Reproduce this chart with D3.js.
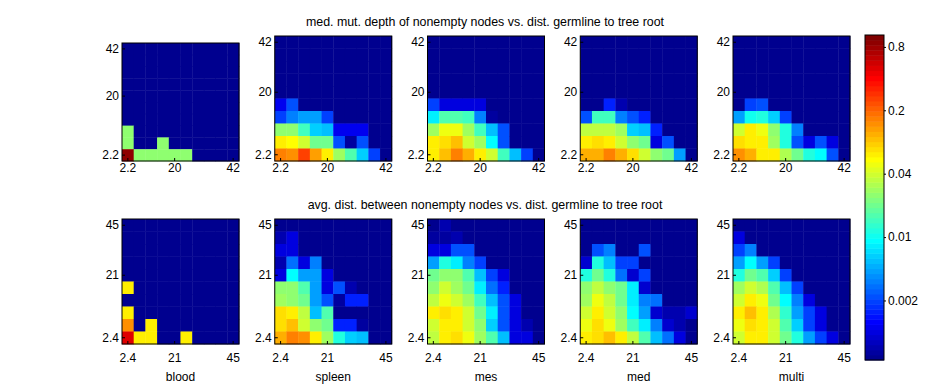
<!DOCTYPE html>
<meta charset="utf-8">
<script src="https://d3js.org/d3.v7.min.js"></script>
<style>
  body { margin: 0; background: #fff; }
  text { font-family: Arial, "Liberation Sans", sans-serif; }
</style>
<svg id="chart" width="938" height="387"></svg>

<script>

// sample names and row titles
var sources = ["blood", "spleen", "mes", "med", "multi"];
var rowTitles = [
  "med. mut. depth of nonempty nodes vs. dist. germline to tree root",
  "avg. dist. between nonempty nodes vs. dist. germline to tree root"
];
var rowTickLabels = [["2.2", "20", "42"], ["2.4", "21", "45"]];
var xTickBins = [0, 4, 9];
var yTickBins = [0, 5, 9];

// colour bar (log scale)
var colorDomain = [0.00049, 1.06];
var colorTicks = [0.8, 0.179, 0.04, 0.00894, 0.002];
var colorTickLabels = ["0.8", "0.2", "0.04", "0.01", "0.002"];

// 10x10 frequency grids, rows listed top -> bottom, 0 = empty
var depthBlood = [
  [0,0,0,0,0,0,0,0,0,0],
  [0,0,0,0,0,0,0,0,0,0],
  [0,0,0,0,0,0,0,0,0,0],
  [0,0,0,0,0,0,0,0,0,0],
  [0,0,0,0,0,0,0,0,0,0],
  [0,0,0,0,0,0,0,0,0,0],
  [0,0,0,0,0,0,0,0,0,0],
  [0.023,0,0,0,0,0,0,0,0,0],
  [0.023,0,0,0.023,0,0,0,0,0,0],
  [0.85,0.023,0.023,0.023,0.023,0.023,0,0,0,0]
];
var depthSpleen = [
  [0,0,0,0,0,0,0,0,0,0],
  [0,0,0,0,0,0,0,0,0,0],
  [0,0,0,0,0,0,0,0,0,0],
  [0,0,0,0,0,0,0,0,0,0],
  [0,0,0,0,0,0,0,0,0,0],
  [0.00105,0.0023,0,0,0,0,0,0,0,0],
  [0.0019,0.0033,0.004,0.004,0.0019,0,0,0,0,0],
  [0.023,0.023,0.0127,0.006,0.0049,0.00105,0.00105,0.00105,0,0],
  [0.06,0.055,0.04,0.02,0.0186,0.0023,0.0006,0.0023,0,0],
  [0.14,0.13,0.23,0.12,0.06,0.027,0.0155,0.006,0.0019,0]
];
var depthMes = [
  [0,0,0,0,0,0,0,0,0,0],
  [0,0,0,0,0,0,0,0,0,0],
  [0,0,0,0,0,0,0,0,0,0],
  [0,0,0,0,0,0,0,0,0,0],
  [0,0,0,0,0,0,0,0,0,0],
  [0.0019,0.001,0.001,0.001,0.001,0,0,0,0,0],
  [0.0072,0.0155,0.0155,0.0127,0.0033,0.0006,0,0,0,0],
  [0.027,0.049,0.049,0.027,0.0127,0.0049,0.0023,0,0,0],
  [0.06,0.07,0.09,0.04,0.027,0.008,0.0023,0,0,0],
  [0.065,0.09,0.155,0.106,0.065,0.04,0.0127,0.0049,0.0019,0]
];
var depthMed = [
  [0,0,0,0,0,0,0,0,0,0],
  [0,0,0,0,0,0,0,0,0,0],
  [0,0,0,0,0,0,0,0,0,0],
  [0,0,0,0,0,0,0,0,0,0],
  [0,0,0,0,0,0,0,0,0,0],
  [0,0,0.0015,0.0007,0,0,0,0,0,0],
  [0.0023,0.0127,0.0127,0.0033,0.0023,0.0015,0,0,0,0],
  [0.033,0.033,0.033,0.027,0.006,0.0049,0.0015,0,0,0],
  [0.06,0.075,0.06,0.04,0.023,0.018,0.001,0.0023,0,0],
  [0.106,0.106,0.155,0.106,0.07,0.04,0.023,0.0186,0.004,0]
];
var depthMulti = [
  [0,0,0,0,0,0,0,0,0,0],
  [0,0,0,0,0,0,0,0,0,0],
  [0,0,0,0,0,0,0,0,0,0],
  [0,0,0,0,0,0,0,0,0,0],
  [0,0,0,0,0,0,0,0,0,0],
  [0,0.002,0.0023,0,0,0,0,0,0,0],
  [0.004,0.009,0.01,0.006,0.002,0,0,0,0,0],
  [0.04,0.06,0.05,0.023,0.01,0.003,0,0,0,0],
  [0.07,0.065,0.06,0.027,0.01,0.0023,0.001,0.0023,0.001,0],
  [0.13,0.1,0.065,0.06,0.03,0.018,0.01,0.008,0.0023,0]
];

var distBlood = [
  [0,0,0,0,0,0,0,0,0,0],
  [0,0,0,0,0,0,0,0,0,0],
  [0,0,0,0,0,0,0,0,0,0],
  [0,0,0,0,0,0,0,0,0,0],
  [0,0,0,0,0,0,0,0,0,0],
  [0.06,0,0,0,0,0,0,0,0,0],
  [0,0,0,0,0,0,0,0,0,0],
  [0.06,0,0,0,0,0,0,0,0,0],
  [0.13,0,0.06,0,0,0,0,0,0,0],
  [0.5,0.06,0.06,0,0,0.06,0,0,0,0]
];
var distSpleen = [
  [0,0,0,0,0,0,0,0,0,0],
  [0.0007,0.001,0,0,0,0,0,0,0,0],
  [0.001,0.001,0,0,0,0,0,0,0,0],
  [0.0007,0.0027,0.0009,0.0033,0,0,0,0,0,0],
  [0.001,0.0087,0.004,0.004,0.001,0,0,0,0,0],
  [0.023,0.023,0.0155,0.004,0.001,0.0023,0.0007,0,0,0],
  [0.027,0.023,0.0186,0.004,0.0023,0.0006,0.0015,0.0015,0,0],
  [0.072,0.06,0.033,0.0049,0.0155,0,0,0,0,0],
  [0.072,0.087,0.04,0.023,0.0186,0.0015,0.0015,0.0006,0,0],
  [0.106,0.14,0.13,0.065,0.027,0.0105,0.006,0.0049,0,0]
];
var distMes = [
  [0,0.0007,0,0,0,0,0,0,0,0],
  [0.0006,0.0006,0.0007,0,0,0,0,0,0,0],
  [0.001,0.0009,0.0023,0.0023,0,0,0,0,0,0],
  [0.004,0.0105,0.0072,0.0033,0.0019,0,0,0,0,0],
  [0.0186,0.023,0.023,0.0155,0.0049,0.0019,0.001,0,0,0],
  [0.023,0.04,0.027,0.0186,0.0072,0.0027,0.0015,0,0,0],
  [0.033,0.049,0.04,0.027,0.0127,0.0049,0.0023,0.001,0,0],
  [0.06,0.072,0.065,0.04,0.0186,0.0072,0.0023,0.001,0,0],
  [0.04,0.06,0.06,0.04,0.023,0.006,0.0023,0.001,0.0007,0],
  [0.033,0.06,0.072,0.049,0.027,0.0155,0.0049,0.001,0.001,0]
];
var distMed = [
  [0,0,0,0,0,0,0,0,0,0],
  [0,0,0,0,0,0,0,0,0,0],
  [0,0.0023,0.0033,0,0,0.0023,0,0,0,0],
  [0.00087,0.0105,0.0049,0.0019,0.0019,0,0,0,0,0],
  [0.0105,0.0186,0.0105,0.0027,0.00087,0.0019,0,0,0,0],
  [0.023,0.033,0.023,0.0186,0.0072,0.00087,0,0,0,0],
  [0.027,0.049,0.033,0.0186,0.0072,0.0033,0.0027,0,0,0],
  [0.04,0.06,0.04,0.023,0.0087,0.004,0.00087,0.0007,0.0007,0.00087],
  [0.049,0.075,0.049,0.027,0.0127,0.0072,0.0033,0.00087,0.0007,0],
  [0.06,0.072,0.087,0.065,0.033,0.0155,0.0049,0.0027,0.001,0]
];
var distMulti = [
  [0,0,0,0,0,0,0,0,0,0],
  [0.001,0,0,0,0,0,0,0,0,0],
  [0.002,0.003,0,0,0,0,0,0,0,0],
  [0.004,0.008,0.004,0.002,0,0,0,0,0,0],
  [0.01,0.02,0.015,0.006,0.002,0,0,0,0,0],
  [0.027,0.04,0.03,0.015,0.005,0.002,0,0,0,0],
  [0.04,0.06,0.05,0.02,0.008,0.003,0.001,0,0,0],
  [0.06,0.09,0.06,0.03,0.012,0.004,0.002,0.001,0,0],
  [0.05,0.07,0.06,0.04,0.015,0.006,0.002,0.001,0,0],
  [0.04,0.06,0.06,0.04,0.02,0.01,0.004,0.002,0.001,0]
];

var grids = [
  [depthBlood, depthSpleen, depthMes, depthMed, depthMulti],
  [distBlood, distSpleen, distMes, distMed, distMulti]
];

// MATLAB jet(64)
function jetMap(n) {
  var m = Math.ceil(n / 4), u = [];
  for (var i = 1; i <= m; i++) u.push(i / m);
  for (var i = 1; i < m; i++) u.push(1);
  for (var i = m; i >= 1; i--) u.push(i / m);
  var off = Math.ceil(m / 2) - (n % 4 == 1 ? 1 : 0);
  var cols = d3.range(n).map(function() { return [0, 0, 0]; });
  u.forEach(function(v, k) {
    var g = off + k, r = g + m, b = g - m;
    if (r < n) cols[r][0] = v;
    if (g < n) cols[g][1] = v;
    if (b >= 0 && b < n) cols[b][2] = v;
  });
  return cols.map(function(c) { return d3.rgb(c[0] * 255, c[1] * 255, c[2] * 255).toString(); });
}
var jet = jetMap(64);

var tScale = d3.scaleLog().domain(colorDomain).range([0, 1]).clamp(true);
function cellColor(v) {
  if (!(v > 0)) return jet[0];
  return jet[Math.min(63, Math.floor(tScale(v) * 64))];
}

var svg = d3.select("#chart");
var fontSize = "12px";

// layout
var panelLeft0 = 122, panelStep = 152.75, panelW = 117;
var rowTop = [36, 219], rowBottom = [161, 344];
var xLabelPad = [2, 9];
var bins = d3.range(10);

grids.forEach(function(row, r) {
  svg.append("text")
    .attr("x", 485).attr("y", r == 0 ? 26 : 209)
    .attr("text-anchor", "middle")
    .style("font-size", "12.4px")
    .text(rowTitles[r]);

  row.forEach(function(grid, p) {
    var left = panelLeft0 + p * panelStep;
    var top = (r == 0 && p == 0) ? 43 : rowTop[r];
    var x = d3.scaleBand().domain(bins).range([left, left + panelW]);
    var y = d3.scaleBand().domain(bins).range([rowBottom[r], top]);

    var cells = [];
    grid.forEach(function(line, i) {
      line.forEach(function(v, j) { cells.push({ col: j, row: 9 - i, v: v }); });
    });

    var g = svg.append("g");
    g.selectAll("rect.cell")
      .data(cells)
      .enter().append("rect")
        .attr("class", "cell")
        .attr("x", function(d) { return x(d.col); })
        .attr("y", function(d) { return y(d.row); })
        .attr("width", x.bandwidth() + 0.4)
        .attr("height", y.bandwidth() + 0.4)
        .attr("fill", function(d) { return cellColor(d.v); });

    var labels = rowTickLabels[r];
    var xAxis = g.append("g")
      .attr("transform", "translate(0," + rowBottom[r] + ")")
      .call(d3.axisBottom(x).tickValues(xTickBins)
        .tickFormat(function(d, i) { return labels[i]; })
        .tickSizeInner(-3).tickSizeOuter(0).tickPadding(xLabelPad[r]));
    var yAxis = g.append("g")
      .attr("transform", "translate(" + left + ",0)")
      .call(d3.axisLeft(y).tickValues(yTickBins)
        .tickFormat(function(d, i) { return labels[i]; })
        .tickSizeInner(-3).tickSizeOuter(0).tickPadding(3));
    [xAxis, yAxis].forEach(function(a) {
      a.select(".domain").remove();
      a.selectAll("text").style("font-size", fontSize).style("font-family", "Arial, 'Liberation Sans', sans-serif").attr("fill", "#000");
      a.selectAll("line").attr("stroke", "#000");
    });

    g.append("rect")
      .attr("x", left).attr("y", top)
      .attr("width", panelW).attr("height", rowBottom[r] - top)
      .attr("fill", "none").attr("stroke", "#000").attr("stroke-width", 1);

    if (r == 1) {
      g.append("text")
        .attr("x", left + panelW / 2).attr("y", 381)
        .attr("text-anchor", "middle")
        .style("font-size", fontSize)
        .text(sources[p]);
    }
  });
});

// colour bar
var cbLeft = 865, cbW = 19, cbTop = 35, cbBottom = 360;
var cbScale = d3.scaleLog().domain(colorDomain).range([cbBottom, cbTop]);
var step = (cbBottom - cbTop) / 64;
svg.append("g").selectAll("rect")
  .data(jet)
  .enter().append("rect")
    .attr("x", cbLeft)
    .attr("y", function(d, i) { return cbBottom - (i + 1) * step; })
    .attr("width", cbW)
    .attr("height", step + 0.5)
    .attr("fill", function(d) { return d; });
svg.append("rect")
  .attr("x", cbLeft).attr("y", cbTop).attr("width", cbW).attr("height", cbBottom - cbTop)
  .attr("fill", "none").attr("stroke", "#000");
var cbAxis = svg.append("g")
  .attr("transform", "translate(" + (cbLeft + cbW) + ",0)")
  .call(d3.axisRight(cbScale).tickValues(colorTicks)
    .tickFormat(function(d, i) { return colorTickLabels[i]; })
    .tickSizeInner(2).tickSizeOuter(0).tickPadding(2));
cbAxis.select(".domain").remove();
cbAxis.selectAll("text").style("font-size", fontSize).style("font-family", "Arial, 'Liberation Sans', sans-serif").attr("fill", "#000");
cbAxis.selectAll("line").attr("stroke", "#000");

</script>
